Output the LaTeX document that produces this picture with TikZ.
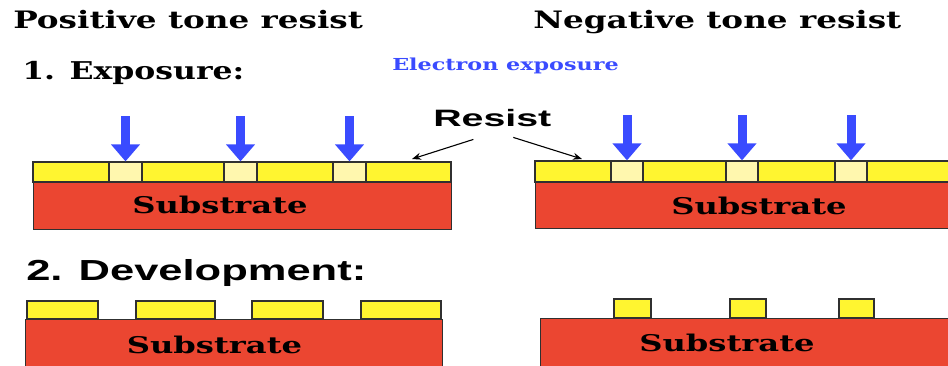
\documentclass[tikz,border=0pt]{standalone}
\usepackage{fontspec}
\usepackage{tikz}
\usetikzlibrary{arrows.meta}
\newfontfamily\dvserif{DejaVu Serif}
\newfontfamily\lsans{Liberation Sans}

\definecolor{resistyellow}{HTML}{FFF530}
\definecolor{exposedyellow}{HTML}{FFF7AE}
\definecolor{substratered}{HTML}{EB4631}
\definecolor{beamblue}{HTML}{3A4BFF}
\definecolor{outline}{HTML}{303030}

\tikzset{
  heading/.style={font=\dvserif\bfseries\fontsize{24}{24}\selectfont, xscale=1.36, anchor=base west, inner sep=0},
  steptitle/.style={font=\dvserif\bfseries\fontsize{24.5}{24.5}\selectfont, xscale=1.285, anchor=base west, inner sep=0},
  sanstitle/.style={font=\lsans\bfseries\fontsize{29}{29}\selectfont, xscale=1.5, anchor=base west, inner sep=0},
  subtext/.style={font=\dvserif\bfseries\fontsize{23}{23}\selectfont, xscale=1.40, anchor=base, inner sep=0},
  resistlayer/.style={draw=outline, line width=1.2pt, fill=resistyellow},
  exposed/.style={draw=outline, line width=1.2pt, fill=exposedyellow},
  substrate/.style={draw=outline, line width=1pt, fill=substratered},
  beam/.style={draw=beamblue, line width=9pt, -{Triangle[width=28pt,length=17pt]}},
  pointer/.style={draw=black, line width=1.1pt, -{Stealth[length=9pt,width=7pt]}}
}

\begin{document}
\begin{tikzpicture}[x=1pt, y=-1pt]
  \useasboundingbox (0,0) rectangle (948,366);
  \clip (0,0) rectangle (948,366);

  % Headings
  \node[heading] (postitle) at (13,29) {Positive tone resist};
  \node[heading] (negtitle) at (533,29) {Negative tone resist};
  \node[steptitle] (exposure) at (22,80) {1. Exposure:};
  \node[steptitle, font=\dvserif\bfseries\fontsize{16.5}{16.5}\selectfont, xscale=1.05, text=beamblue] (electron) at (392,71) {Electron exposure};
  \node[sanstitle, font=\lsans\bfseries\fontsize{23.7}{23.7}\selectfont, xscale=1.106] (resist) at (433,127) {Resist};
  \node[sanstitle] (development) at (26,280) {2. Development:};

  % Exposure, positive tone
  \draw[substrate] (33,182) rectangle (451,230);
  \draw[resistlayer] (33,162) rectangle (451,182);
  \node[exposed, minimum width=33pt, minimum height=20pt, inner sep=0] (pe1) at (125.5,172) {};
  \node[exposed, minimum width=33pt, minimum height=20pt, inner sep=0] (pe2) at (240.5,172) {};
  \node[exposed, minimum width=33pt, minimum height=20pt, inner sep=0] (pe3) at (349.5,172) {};
  \node[subtext] (possub) at (220,214) {Substrate};

  % Exposure, negative tone
  \draw[substrate] (535,182) rectangle (955,229);
  \draw[resistlayer] (535,161) rectangle (955,182);
  \node[exposed, minimum width=32pt, minimum height=21pt, inner sep=0] (ne1) at (627,171.5) {};
  \node[exposed, minimum width=32pt, minimum height=21pt, inner sep=0] (ne2) at (742,171.5) {};
  \node[exposed, minimum width=32pt, minimum height=21pt, inner sep=0] (ne3) at (851,171.5) {};
  \node[subtext] (negsub) at (759,215) {Substrate};

  % Electron beams
  \foreach \s in {pe1,pe2,pe3,ne1,ne2,ne3}
    \draw[beam] ([yshift=45pt]\s.north) -- (\s.north);

  % Resist pointers
  \coordinate (postip) at (412,159);
  \coordinate (negtip) at (582,159);
  \draw[pointer] ([xshift=-19pt,yshift=-12pt]resist.south) -- (postip);
  \draw[pointer] ([xshift=21pt,yshift=-10pt]resist.south) -- (negtip);

  % Development, positive tone
  \draw[substrate] (25,319) rectangle (442,372);
  \foreach \a/\b in {27/98,136/215,252/323,361/441}
    \draw[resistlayer] (\a,301) rectangle (\b,319);
  \node[subtext] (devpossub) at (214.5,353) {Substrate};

  % Development, negative tone
  \draw[substrate] (540,318) rectangle (955,372);
  \foreach \a/\b in {614/651,730/766,839/874}
    \draw[resistlayer] (\a,299) rectangle (\b,318);
  \node[subtext] (devnegsub) at (727,351) {Substrate};
\end{tikzpicture}
\end{document}
